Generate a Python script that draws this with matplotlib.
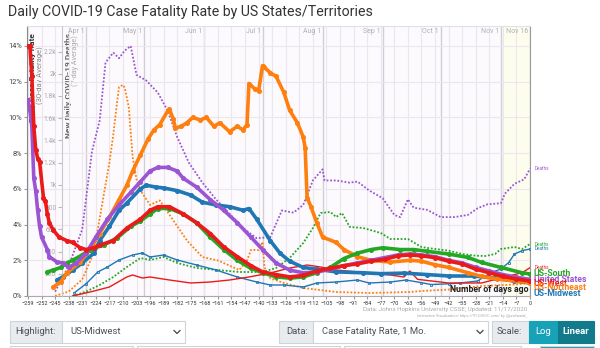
import matplotlib.pyplot as plt
from matplotlib.patches import Rectangle
from matplotlib.lines import Line2D
from matplotlib.ticker import FuncFormatter

plt.rcParams['font.family'] = ['Roboto', 'DejaVu Sans']

# 30-day case fatality rate (%), keyed by days before Nov 16
west_days = [-259, -258, -257, -256, -255, -254, -253, -251, -250, -249, -248, -246, -243, -239,
             -236, -232, -229, -225, -222, -215, -208, -201, -196, -192, -186, -179, -172, -165,
             -158, -151, -144, -138, -131, -124, -117, -110, -103, -96, -89, -82, -75, -68, -62,
             -56, -49, -42, -35, -28, -21, -14, -7, 0]
west_cfr = [14.0, 14.0, 12.3, 9.5, 8.2, 7.7, 7.5, 5.5, 5.3, 4.6, 4.1, 3.7, 3.3, 3.1,
            3.0, 2.7, 2.6, 2.7, 2.85, 3.1, 3.8, 4.3, 4.8, 5.0, 5.0, 4.6, 4.1, 3.5,
            2.75, 2.2, 1.7, 1.35, 1.2, 1.07, 1.15, 1.4, 1.55, 1.7, 1.8, 1.95, 2.05, 2.25, 2.3,
            2.25, 2.15, 1.95, 1.8, 1.5, 1.3, 1.1, 0.95, 0.84]

us_days = [-259, -258, -257, -256, -255, -254, -253, -252, -249, -248, -244, -241, -238, -234,
           -229, -224, -218, -212, -206, -201, -196, -192, -187, -182, -179, -172, -165, -158,
           -151, -144, -138, -131, -124, -117, -110, -103, -96, -89, -82, -75, -68, -62, -56,
           -49, -42, -35, -28, -21, -14, -7, 0]
us_cfr = [11.0, 10.4, 9.5, 6.6, 5.9, 4.8, 3.9, 3.3, 2.6, 2.2, 1.9, 1.85, 1.6, 1.85,
          2.4, 3.3, 4.3, 5.1, 5.8, 6.4, 7.0, 7.2, 7.2, 7.0, 6.6, 6.1, 5.4, 4.8,
          4.1, 3.3, 2.6, 1.85, 1.45, 1.3, 1.35, 1.5, 1.7, 1.85, 2.0, 2.15, 2.3, 2.35, 2.3,
          2.2, 2.0, 1.85, 1.6, 1.4, 1.2, 1.05, 0.93]

south_days = [-249, -246, -242, -239, -236, -231, -227, -220, -213, -206, -201, -196, -192,
              -186, -179, -172, -165, -158, -151, -144, -138, -131, -124, -117, -110, -103,
              -96, -89, -82, -76, -67, -60, -53, -42, -32, -25, -15, -4, 0]
south_cfr = [1.35, 1.45, 1.6, 1.85, 2.0, 2.3, 2.6, 2.85, 3.25, 3.9, 4.2, 4.6, 4.9,
             4.9, 4.6, 4.1, 3.3, 2.6, 2.0, 1.55, 1.3, 1.07, 1.0, 1.07, 1.3, 1.6,
             2.1, 2.4, 2.6, 2.7, 2.6, 2.6, 2.5, 2.35, 2.16, 1.88, 1.6, 1.3, 1.23]

midwest_days = [-244, -241, -236, -231, -225, -222, -217, -212, -208, -201, -198, -193, -189,
                -182, -175, -169, -162, -155, -148, -145, -141, -134, -129, -124, -117, -110,
                -100, -86, -77, -65, -53, -42, -29, -18, -8, 0]
midwest_cfr = [0.9, 1.07, 1.45, 1.85, 2.4, 3.1, 3.9, 4.8, 5.2, 6.0, 6.2, 6.1, 6.05,
               5.9, 5.65, 5.25, 5.1, 5.0, 4.8, 4.9, 4.3, 3.1, 2.4, 1.95, 1.6, 1.5,
               1.35, 1.3, 1.25, 1.28, 1.2, 1.12, 1.12, 1.0, 0.84, 0.73]

ne_days = [-246, -242, -239, -232, -227, -222, -217, -212, -208, -205, -201, -197, -194, -191,
           -187, -186, -184, -183, -180, -177, -174, -170, -167, -163, -160, -155, -151, -148,
           -146, -145, -142, -140, -138, -137, -134, -131, -127, -124, -120, -117, -116, -115,
           -113, -110, -107, -100, -96, -89, -82, -72, -62, -56, -49, -42, -32, -25, -17, 0]
ne_cfr = [0.5, 0.8, 1.3, 1.9, 2.6, 3.5, 4.4, 5.4, 6.2, 7.0, 7.9, 8.8, 9.3, 9.6,
          10.35, 10.45, 9.9, 9.4, 9.5, 9.7, 10.0, 9.85, 10.0, 9.5, 9.7, 9.2, 9.5, 9.3,
          9.6, 11.9, 11.6, 11.5, 12.9, 12.8, 12.5, 12.3, 11.4, 10.4, 9.7, 8.9, 8.3, 5.5,
          5.0, 4.1, 3.3, 3.0, 2.6, 2.2, 2.0, 1.9, 2.0, 1.95, 1.75, 1.6, 1.3, 1.1, 0.95, 0.75]

# new daily deaths, 7-day average
us_death_days = [-245, -238, -231, -226, -222, -219, -215, -212, -209, -206, -203, -198, -192,
                 -187, -182, -176, -169, -162, -155, -148, -141, -134, -128, -122, -117, -112,
                 -107, -106, -100, -93, -89, -83, -76, -70, -67, -63, -60, -53, -46, -39, -32,
                 -27, -22, -15, -13, -8, -3, 0]
us_deaths = [40, 270, 600, 1300, 1580, 2100, 2190, 2140, 2210, 2250, 1990, 1940, 1830,
             1670, 1430, 1200, 1020, 870, 740, 610, 520, 530, 770, 750, 820, 1040,
             1140, 1040, 1040, 1020, 1030, 950, 880, 730, 710, 870, 795, 775, 710, 710, 730,
             790, 825, 835, 920, 1010, 1050, 1145]

ne_death_days = [-245, -238, -231, -226, -223, -220, -217, -215, -213, -212, -210, -209, -207,
                 -205, -203, -201, -196, -191, -184, -177, -169, -161, -150, -146, -144, -140,
                 -138, -137, -134, -127, -117, -100, -83, -62, -56, -42, -25, -8, 0]
ne_deaths = [0, 40, 150, 350, 600, 900, 1200, 1450, 1750, 1880, 1900, 1870, 1700,
             1250, 1050, 950, 820, 860, 680, 500, 350, 320, 234, 320, 414, 414,
             486, 260, 160, 117, 72, 36, 27, 36, 45, 58, 90, 103, 117]

south_death_days = [-236, -229, -222, -215, -208, -201, -196, -189, -182, -172, -161, -150,
                    -138, -131, -124, -117, -112, -108, -103, -100, -97, -93, -86, -77, -72,
                    -63, -56, -49, -42, -35, -28, -23, -18, -15, -8, -4, 0]
south_deaths = [0, 40, 99, 171, 261, 342, 324, 351, 297, 252, 234, 216,
                216, 252, 342, 477, 612, 747, 756, 711, 747, 621, 612, 567, 513,
                513, 441, 423, 408, 378, 363, 360, 378, 423, 441, 423, 468]

midwest_death_days = [-235, -229, -223, -218, -212, -205, -200, -196, -189, -182, -172, -162,
                      -151, -141, -134, -127, -117, -110, -100, -89, -83, -72, -64, -56, -51,
                      -42, -36, -27, -23, -20, -15, -11, -8, -4, 0]
midwest_deaths = [30, 110, 216, 261, 324, 369, 387, 351, 369, 324, 279, 234,
                  171, 126, 99, 99, 81, 117, 126, 144, 117, 126, 144, 120, 103,
                  110, 117, 135, 180, 210, 243, 301, 378, 408, 423]

west_death_days = [-236, -226, -217, -208, -205, -200, -196, -186, -175, -165, -155, -145,
                   -134, -124, -115, -108, -100, -89, -83, -72, -65, -62, -58, -42, -25,
                   -11, -4, 0]
west_deaths = [0, 40, 81, 171, 189, 162, 171, 144, 117, 126, 144, 171,
               207, 252, 279, 261, 234, 216, 207, 189, 171, 225, 150, 117, 117,
               180, 210, 255]

month_days = [-229, -199, -168, -138, -107, -76, -46, -15, 0]
month_labels = ['Apr 1', 'May 1', 'Jun 1', 'Jul 1', 'Aug 1', 'Sep 1', 'Oct 1', 'Nov 1', 'Nov 16']

RED, PURPLE, GREEN = '#ea1a1a', '#9b55d3', '#24a824'
ORANGE, BLUE = '#ff7f0e', '#1f77b4'

CFR_TOP, DEATHS_TOP = 15.12, 2430

W, H = 600, 348
fig = plt.figure(figsize=(6, 3.48), dpi=100)


def fx(px):
    return px / W


def fy(py):
    return 1 - py / H


ax = fig.add_axes([fx(27), fy(296), fx(530) - fx(27), fy(26) - fy(296)])
ax.set_facecolor('#fcfafd')
ax.set_xlim(-259.5, 0)
ax.set_ylim(0, CFR_TOP)

# grid: weekly verticals, 2% horizontals, darker month lines, shaded last two weeks
ax.set_xticks(range(-259, 1, 7))
ax.set_yticks(range(0, 15, 2))
ax.grid(True, color='#ece6f0', lw=0.8)
for d in month_days:
    ax.axvline(d, color='#d0ced6', lw=1.0, zorder=1)
ax.axvspan(-15, 0, color='#fdfdee', zorder=0.5)
for d, lab in zip(month_days, month_labels):
    ax.text(d - 1, 15.0, lab, ha='right', va='top', fontsize=5, color='#b0b0b8')

ax.yaxis.set_major_formatter(FuncFormatter(lambda v, p: f'{v:.0f}%'))
ax.tick_params(axis='y', labelsize=5.3, labelcolor='#444', color='#999', length=2, pad=1.5)
ax.tick_params(axis='x', labelsize=4.0, labelcolor='#333', color='#999', length=2, pad=1.5)
ax.spines['top'].set_color('#e2e0e6')
ax.spines['left'].set_color('#888')
ax.spines['bottom'].set_color('#aaa')
ax.spines['right'].set_color('#999')

# secondary axis for deaths, drawn inside the plot
ax2 = ax.twinx()
ax2.set_ylim(0, DEATHS_TOP)
ax2.spines['left'].set_position(('axes', 35 / 503))
ax2.spines['left'].set_visible(True)
ax2.spines['left'].set_color('#c8c8cc')
for side in ['right', 'top', 'bottom']:
    ax2.spines[side].set_visible(False)
ax2.yaxis.set_ticks_position('left')
ax2.set_yticks(range(200, 2201, 200))
ax2.yaxis.set_major_formatter(FuncFormatter(
    lambda v, p: f'{v:.0f}' if v < 1000 else f'{v / 1000:g}k'))
ax2.tick_params(axis='y', labelsize=4.8, labelcolor='#a8a8a8', color='#bbb', length=3, pad=1)

# axis titles sit under the data lines
ax.text(fx(32), fy(33), 'Daily Case Fatality Rate', transform=fig.transFigure, rotation=90,
        ha='center', va='top', fontsize=6, fontweight='bold', color='#333', zorder=1)
ax.text(fx(40), fy(46), '(30-day Average)', transform=fig.transFigure, rotation=90,
        ha='center', va='top', fontsize=5.5, color='#888', zorder=1)
ax.text(fx(68), fy(33), 'New Daily COVID-19 Deaths', transform=fig.transFigure, rotation=90,
        ha='center', va='top', fontsize=6, fontweight='bold', color='#666', zorder=1)
ax.text(fx(75), fy(35), '(7-day Average)', transform=fig.transFigure, rotation=90,
        ha='center', va='top', fontsize=5.2, color='#aaa', zorder=1)

# deaths lines
dotted = (0, (1, 1))
ax2.plot(ne_death_days, ne_deaths, color=ORANGE, lw=1.3, ls=dotted, zorder=2)
ax2.plot(south_death_days, south_deaths, color=GREEN, lw=1.3, ls=dotted, zorder=2)
ax2.plot(midwest_death_days, midwest_deaths, color=BLUE, lw=1.0, marker='s', ms=1.4,
         mfc='none', mew=0.6, zorder=2)
ax2.plot(west_death_days, west_deaths, color=RED, lw=1.0, zorder=2)
ax2.plot(us_death_days, us_deaths, color=PURPLE, lw=1.3, ls=dotted, zorder=2)

# case fatality rate lines, mapped onto the deaths axis so they draw above it
thick = dict(lw=2.6, marker='o', ms=2.6, solid_capstyle='round', solid_joinstyle='round')
for days, vals, c, z in [(midwest_days, midwest_cfr, BLUE, 3), (ne_days, ne_cfr, ORANGE, 4),
                         (south_days, south_cfr, GREEN, 5), (us_days, us_cfr, PURPLE, 6),
                         (west_days, west_cfr, RED, 7)]:
    ax2.plot(days, [v * DEATHS_TOP / CFR_TOP for v in vals], color=c, zorder=z, **thick)

ax2.text(-1, 0.39 * DEATHS_TOP / CFR_TOP, 'Number of days ago', ha='right', va='center',
         fontsize=6.3, fontweight='bold', color='#222', zorder=10)

# end-of-line labels
for name, ypx, c in [('US-South', 273, GREEN), ('United States', 280, PURPLE),
                     ('US-West', 284, RED), ('US-Northeast', 288, ORANGE),
                     ('US-Midwest', 294, BLUE)]:
    fig.text(fx(534), fy(ypx), name, ha='left', va='center', fontsize=6.2,
             fontweight='bold', color=c)
for deaths, c in [(us_deaths, PURPLE), (south_deaths, GREEN), (midwest_deaths, BLUE),
                  (west_deaths, RED)]:
    ax2.annotate('Deaths', xy=(0, deaths[-1]), xytext=(3, 0), textcoords='offset points',
                 fontsize=3.3, color=c, va='center', annotation_clip=False)

# title and source
fig.text(fx(8), fy(12), 'Daily COVID-19 Case Fatality Rate by US States/Territories',
         ha='left', va='center', fontsize=10.2, color='#333')
fig.text(fx(527), fy(309), 'Data: Johns Hopkins University CSSE; Updated: 11/17/2020',
         ha='right', va='center', fontsize=4.5, color='#aaa')
fig.text(fx(527), fy(316), 'Interactive Visualization: https://91-DIVOC.com/ by @profwade_',
         ha='right', va='center', fontsize=2.8, color='#aaa')


# control row below the chart
def box(x0, y0, x1, y1, fc, ec='#ced4da'):
    fig.patches.append(Rectangle((fx(x0), fy(y1)), fx(x1) - fx(x0), fy(y0) - fy(y1),
                                 transform=fig.transFigure, fc=fc, ec=ec, lw=0.8))


def label(x, y, s, color='#495057', **kw):
    fig.text(fx(x), fy(y), s, ha='left', va='center', fontsize=6.8, color=color, **kw)


def chevron(x, y):
    fig.lines.append(Line2D([fx(x - 3), fx(x), fx(x + 3)], [fy(y - 1.5), fy(y + 1.5), fy(y - 1.5)],
                            transform=fig.transFigure, color='#444', lw=0.9))


box(10, 321, 62, 343, '#e9ecef')
label(15, 332, 'Highlight:')
box(62, 321, 185, 343, 'white')
label(70, 332, 'US-Midwest')
chevron(177, 332)
box(279, 321, 313, 343, '#e9ecef')
label(286, 332, 'Data:')
box(313, 321, 488, 343, 'white')
label(322, 332, 'Case Fatality Rate, 1 Mo.')
chevron(480, 332)
box(492, 321, 529, 343, '#e9ecef')
label(497, 332, 'Scale:')
box(529, 321, 558, 343, '#17a2b8', '#17a2b8')
label(535, 332, 'Log', color='white')
box(558, 321, 594, 343, '#117a8b', '#117a8b')
label(562, 332, 'Linear', color='white', fontweight='bold')

for x0, x1, fc in [(10, 133, 'white'), (137, 340, 'white'), (344, 521, 'white'),
                   (540, 594, '#17a2b8')]:
    box(x0, 346, x1, 360, fc)

fig.savefig('out.png', dpi=100)
